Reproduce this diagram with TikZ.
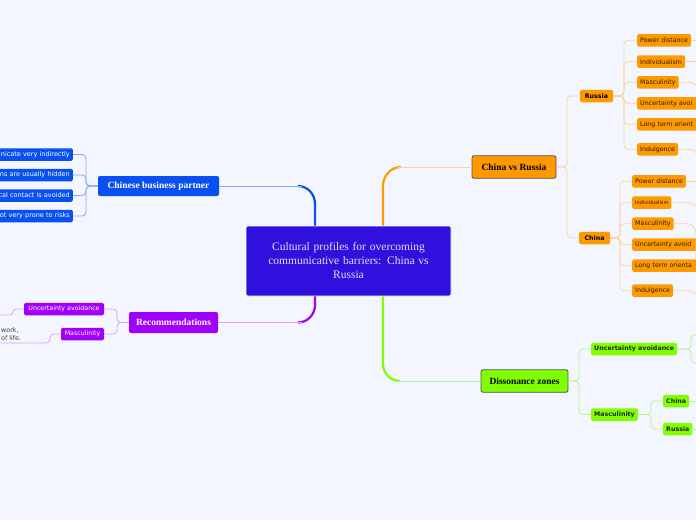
\documentclass[tikz,border=0pt]{standalone}
\usepackage{fontspec}
\setmainfont{Liberation Serif}
\newfontfamily\smallsans{DejaVu Sans}
\usetikzlibrary{calc}
\definecolor{bg}{RGB}{243,246,254}
\definecolor{ccentral}{RGB}{48,16,220}
\definecolor{ctext}{RGB}{228,222,255}
\definecolor{cblue}{RGB}{10,80,240}
\definecolor{blight}{RGB}{135,168,250}
\definecolor{cpurple}{RGB}{160,0,250}
\definecolor{plight}{RGB}{215,160,250}
\definecolor{corange}{RGB}{255,153,0}
\definecolor{olight}{RGB}{252,212,155}
\definecolor{cgreen}{RGB}{128,255,0}
\definecolor{glight}{RGB}{185,245,140}
\definecolor{bdark}{RGB}{80,80,80}
\definecolor{tdark}{RGB}{40,30,0}
\begin{document}
\begin{tikzpicture}[x=1pt,y=-1pt,
  central/.style={rectangle, rounded corners=2pt, fill=ccentral, draw=white, line width=0.6pt,
    minimum width=205pt, minimum height=70pt, text width=195pt, align=center, text=ctext,
    font=\fontsize{11.5}{14}\selectfont},
  mainbox/.style={rectangle, rounded corners=2pt, inner sep=2pt, font=\bfseries\fontsize{9.5}{11}\selectfont},
  smallbox/.style={rectangle, rounded corners=1.5pt, minimum height=12.5pt, inner xsep=3pt, inner ysep=0pt,
    font=\smallsans\fontsize{6.3}{7.5}\selectfont},
  smallbold/.style={smallbox, font=\smallsans\bfseries\fontsize{6.3}{7.5}\selectfont},
  bluekid/.style={smallbox, fill=cblue, text=white, anchor=east, text width=100pt, align=right,
    font=\smallsans\fontsize{6.5}{7.5}\selectfont},
  orkid/.style={smallbox, fill=corange, text=tdark, anchor=west},
  orcut/.style={orkid, text width=70pt, align=left},
  thin/.style={line width=0.8pt},
  bus/.style={thin, rounded corners=4pt},
]
\useasboundingbox (0,0) rectangle (696,520);
\fill[bg] (0,0) rectangle (696,520);
\clip (0,0) rectangle (696,520);

% ---- main branches (drawn first, under the nodes)
\coordinate (kb) at (298,186);
\coordinate (ko) at (401,167);
\coordinate (kp) at (298,322.5);
\coordinate (kg) at (400,381);
\coordinate (cb) at (315,204);
\coordinate (co) at (383,186);
\coordinate (cp) at (315,305);
\coordinate (cg) at (383,364);

% central
\node[central] (c) at (348.5,261) {Cultural profiles for overcoming\\communicative barriers: China vs\\Russia};

\draw[cblue, line width=2.2pt] (kb) to[out=0,in=90] (cb) -- (cb |- c.north);
\draw[corange, line width=2.2pt] (ko) to[out=180,in=90] (co) -- (co |- c.north);
\draw[cpurple, line width=2.2pt] (kp) to[out=0,in=-90] (cp) -- (cp |- c.south);
\draw[cgreen, line width=2.2pt] (kg) to[out=180,in=-90] (cg) -- (cg |- c.south);

% ---- left: Chinese business partner
\node[mainbox, fill=cblue, text=white, minimum width=121pt, minimum height=20pt] (cbp) at (158.5,186) {Chinese business partner};
\node[bluekid] (b1) at (73,154.5) {nicate very indirectly};
\node[bluekid] (b2) at (73,175) {ns are usually hidden};
\node[bluekid] (b3) at (73,195.5) {cal contact is avoided};
\node[bluekid] (b4) at (73,216) {ot very prone to risks};
\coordinate (cbpbus) at (86,186);
\foreach \k in {b1,b2,b3,b4} \draw[bus, blight] (cbp.west) -- (cbpbus) |- (\k.east);
\draw[thin, blight] (cbp.east) -- ($(kb)+(4,0)$);

% ---- left: Recommendations
\node[mainbox, fill=cpurple, text=white, minimum width=89pt, minimum height=21pt] (rec) at (173.5,322.5) {Recommendations};
\node[smallbox, fill=cpurple, text=white, minimum width=80pt] (r1) at (64,309) {Uncertainty avoidance};
\node[smallbox, fill=cpurple, text=white, minimum width=43pt] (r2) at (82.5,334) {Masculinity};
\node[anchor=south west, inner sep=1pt, align=left, text=black!75, font=\smallsans\fontsize{6.4}{8.5}\selectfont] (r2t) at (0,342) {work,\\of life.};
\coordinate (recbus) at (117,322.5);
\foreach \k in {r1,r2} \draw[bus, plight] (rec.west) -- (recbus) |- (\k.east);
\coordinate (r1b) at (13,309);
\coordinate (r1o) at (-10,315);
\coordinate (r2b) at (50,334);
\coordinate (r2o) at (-10,343);
\draw[thin, plight, rounded corners=3pt] (r1.west) -- (r1b) |- (r1o);
\draw[thin, plight, rounded corners=4pt] (r2.west) -- (r2b) |- (r2o);
\draw[thin, plight] (rec.east) -- ($(kp)+(4,0)$);

% ---- right: China vs Russia
\node[mainbox, fill=corange, draw=bdark, line width=0.8pt, text=black, minimum width=84pt, minimum height=22.5pt] (cvr) at (514,167) {China vs Russia};
\node[smallbold, fill=corange, text=black, minimum width=33pt] (ru) at (596.5,96) {Russia};
\node[smallbold, fill=corange, text=black, minimum width=31pt] (cn) at (594.5,238) {China};
\coordinate (cvrbus) at (567,167);
\foreach \k in {ru,cn} \draw[bus, olight] (cvr.east) -- (cvrbus) |- (\k.west);
\draw[thin, olight] (cvr.west) -- ($(ko)+(-4,0)$);

\node[orkid] (ru1) at (637,40.3) {Power distance};
\node[orkid] (ru2) at (637,61.7) {Individualism};
\node[orkid] (ru3) at (637,82.3) {Masculinity};
\node[orcut] (ru4) at (637,103.3) {Uncertainty avoi};
\node[orcut] (ru5) at (637,124.3) {Long term orient};
\node[orkid] (ru6) at (637,149.3) {Indulgence};
\coordinate (rubus) at (624,96);
\foreach \k in {ru1,ru2,ru3,ru4,ru5,ru6} \draw[bus, olight] (ru.east) -- (rubus) |- (\k.west);

\node[orkid] (cn1) at (632,181.3) {Power distance};
\node[orkid, font=\smallsans\fontsize{5}{6}\selectfont] (cn2) at (632,202.7) {Individualism};
\node[orkid] (cn3) at (632,223.7) {Masculinity};
\node[orcut] (cn4) at (632,244.7) {Uncertainty avoid};
\node[orcut] (cn5) at (632,265.7) {Long term orienta};
\node[orkid] (cn6) at (632,290.7) {Indulgence};
\coordinate (cnbus) at (620,238);
\foreach \k in {cn1,cn2,cn3,cn4,cn5,cn6} \draw[bus, olight] (cn.east) -- (cnbus) |- (\k.west);

% free ends on the right
\coordinate (ru1o) at (710,40.3);
\coordinate (ru2o) at (710,61.7);
\coordinate (ru3o) at (698,130);
\coordinate (ru6o) at (698,190);
\coordinate (cn1o) at (710,181.3);
\coordinate (cn2o) at (698,240);
\coordinate (cn3o) at (696,260);
\coordinate (cn6o) at (698,330);
\draw[thin, olight] (ru1.east) -- (ru1o);
\draw[thin, olight] (ru2.east) -- (ru2o);
\draw[thin, olight, rounded corners=9pt] (ru3.east) -| (ru3o);
\draw[thin, olight, rounded corners=9pt] (ru6.east) -| (ru6o);
\draw[thin, olight] (cn1.east) -- (cn1o);
\draw[thin, olight, rounded corners=9pt] (cn2.east) -| (cn2o);
\draw[thin, olight, rounded corners=9pt] (cn3.east) -| (cn3o);
\draw[thin, olight, rounded corners=9pt] (cn6.east) -| (cn6o);

% ---- right: Dissonance zones
\node[mainbox, fill=cgreen, draw=bdark, line width=0.8pt, text=black, minimum width=87pt, minimum height=22.5pt] (dz) at (524.5,381) {Dissonance zones};
\node[smallbold, fill=cgreen, text=black!85, anchor=west] (d1) at (591,349) {Uncertainty avoidance};
\node[smallbold, fill=cgreen, text=black!85, anchor=west] (d2) at (591,414.5) {Masculinity};
\node[smallbold, fill=cgreen, text=black!85, anchor=west] (d3) at (663,401) {China};
\node[smallbold, fill=cgreen, text=black!85, anchor=west] (d4) at (663,429) {Russia};
\coordinate (dzbus) at (579,381);
\foreach \k in {d1,d2} \draw[bus, glight] (dz.east) -- (dzbus) |- (\k.west);
\draw[thin, glight] (dz.west) -- ($(kg)+(-4,0)$);
\coordinate (d2bus) at (651,414.5);
\foreach \k in {d3,d4} \draw[bus, glight] (d2.east) -- (d2bus) |- (\k.west);
\coordinate (d1bus) at (691,349);
\coordinate (d1a) at (710,335);
\coordinate (d1b) at (710,363);
\coordinate (d3o) at (710,401);
\coordinate (d4o) at (710,429);
\draw[bus, glight] (d1.east) -- (d1bus) |- (d1a);
\draw[bus, glight] (d1.east) -- (d1bus) |- (d1b);
\draw[thin, glight] (d3.east) -- (d3o);
\draw[thin, glight] (d4.east) -- (d4o);
\end{tikzpicture}
\end{document}
